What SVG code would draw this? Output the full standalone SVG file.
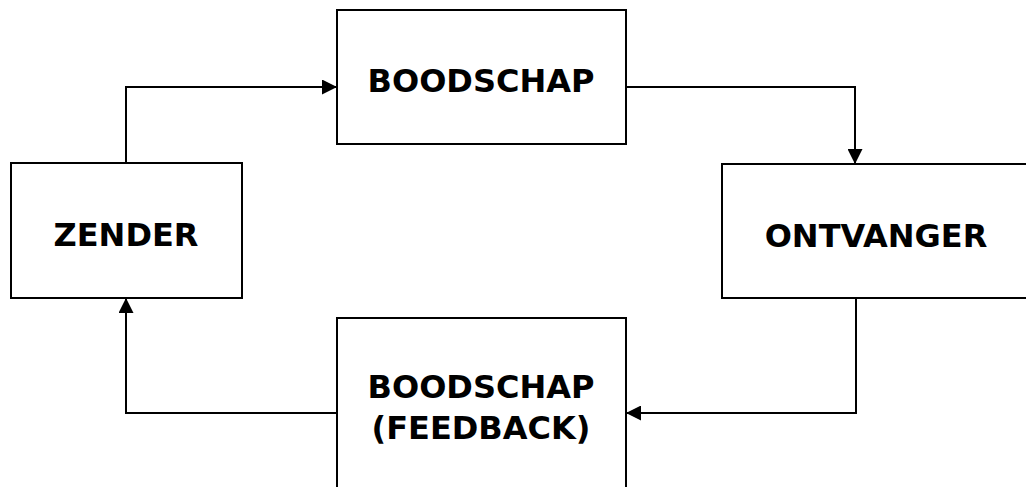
<svg xmlns="http://www.w3.org/2000/svg" width="1026" height="487" viewBox="0 0 1026 487">
  <style>
    .box { fill: #ffffff; stroke: #000000; stroke-width: 2; }
    .label { font-family: "DejaVu Sans", Verdana, sans-serif; font-weight: bold; font-size: 32px; fill: #000000; text-anchor: middle; }
    .link { fill: none; stroke: #000000; stroke-width: 2; marker-end: url(#arrow); }
  </style>
  <defs>
    <marker id="arrow" viewBox="0 0 10 10" refX="10" refY="5" markerWidth="15" markerHeight="15" markerUnits="userSpaceOnUse" orient="auto">
      <path d="M0,0 L10,5 L0,10 z" fill="#000000"/>
    </marker>
  </defs>
  <rect width="1026" height="487" fill="#ffffff"/>

  <g id="connectors">
    <!-- zender -> boodschap -->
    <path class="link" d="M126,163 V87 H337"/>
    <!-- boodschap -> ontvanger -->
    <path class="link" d="M626,87 H855 V164"/>
    <!-- ontvanger -> feedback -->
    <path class="link" d="M856,298 V413 H626"/>
    <!-- feedback -> zender -->
    <path class="link" d="M337,413 H126 V298"/>
  </g>

  <g id="boodschap">
    <rect class="box" x="337" y="10" width="289" height="134"/>
    <text class="label" x="481" y="92">BOODSCHAP</text>
  </g>

  <g id="zender">
    <rect class="box" x="11" y="163" width="231" height="135"/>
    <text class="label" x="126" y="246">ZENDER</text>
  </g>

  <g id="ontvanger">
    <rect class="box" x="722" y="164" width="320" height="134"/>
    <text class="label" x="876" y="247">ONTVANGER</text>
  </g>

  <g id="feedback">
    <rect class="box" x="337" y="318" width="289" height="190"/>
    <text class="label" x="481" y="398">BOODSCHAP</text>
    <text class="label" x="481" y="439">(FEEDBACK)</text>
  </g>
</svg>
